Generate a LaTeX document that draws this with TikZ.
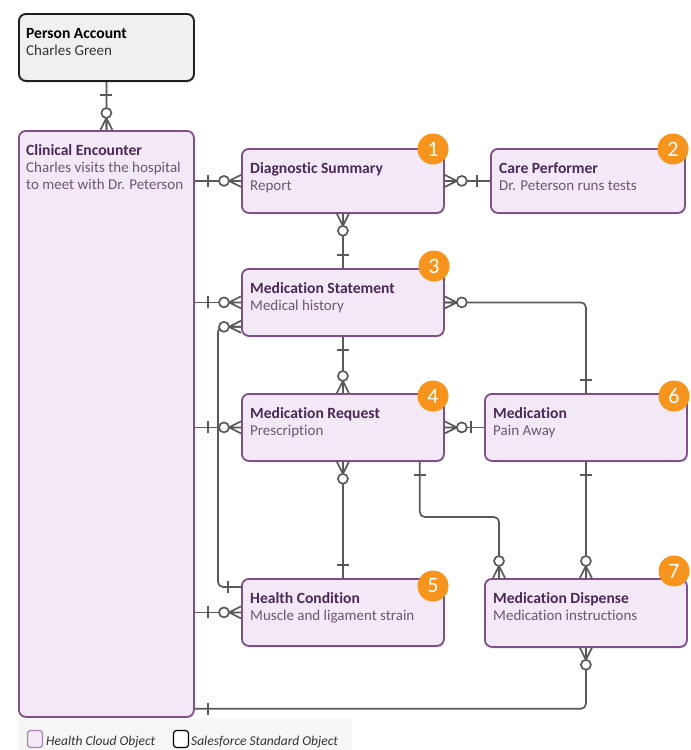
\documentclass[tikz,border=0pt]{standalone}
\usepackage{fontspec}
\setmainfont{Carlito}[Ligatures=NoCommon]
\usetikzlibrary{calc,shadows}
\definecolor{hcfill}{HTML}{F3E8F5}
\definecolor{hcdraw}{HTML}{7F4F8A}
\definecolor{ttl}{HTML}{4A2A55}
\definecolor{subc}{HTML}{6D5577}
\definecolor{conn}{HTML}{595959}
\definecolor{badgec}{HTML}{F7941D}
\definecolor{sfill}{HTML}{F0F0F2}
\definecolor{legbgc}{HTML}{F6F6F6}
\newcommand{\ttlfont}{\fontsize{15.6}{17}\selectfont\bfseries}
\begin{document}
\begin{tikzpicture}[x=1pt,y=-1pt,
  hcbox/.style={draw=hcdraw, fill=hcfill, line width=1.8pt, rounded corners=7pt, inner sep=0pt, anchor=north west,
    drop shadow={opacity=0.18, shadow xshift=0.8pt, shadow yshift=-1.8pt}},
  sfbox/.style={draw=black!88, fill=sfill, line width=1.9pt, rounded corners=7pt, inner sep=0pt, anchor=north west,
    drop shadow={opacity=0.18, shadow xshift=0.8pt, shadow yshift=-1.8pt}},
  txt/.style={anchor=base west, inner sep=0pt, font=\fontsize{15}{17}\selectfont},
  badgenode/.style={circle, fill=badgec, text=white, minimum size=31pt, inner sep=0pt, font=\fontsize{22}{22}\selectfont},
  erlink/.style={draw=conn, line width=1.7pt, rounded corners=5pt},
  erline/.style={draw=conn, line width=1.7pt},
  zmany/.pic={\draw[erline] (-12,0) -- (0,-6) (-12,0) -- (0,0) (-12,0) -- (0,6);
              \draw[erline, fill=white] (-17,0) circle[radius=5pt];},
  onebar/.pic={\draw[erline] (-13,-6) -- (-13,6);},
  legsq/.style={rounded corners=3pt, line width=1.2pt, minimum width=15pt, minimum height=17pt, inner sep=0pt},
  legtxt/.style={anchor=base west, inner sep=0pt, text=black!80, font=\fontsize{13.5}{15}\selectfont\itshape}
]
\useasboundingbox (0,0) rectangle (691,750);

% entity boxes
\node[sfbox, minimum width=175pt, minimum height=67pt] (pa) at (18,13) {};
\node[hcbox, minimum width=175pt, minimum height=586pt] (ce) at (18,130) {};
\node[hcbox, minimum width=202pt, minimum height=64pt] (ds) at (241,148) {};
\node[hcbox, minimum width=194pt, minimum height=64pt] (cp) at (490,148) {};
\node[hcbox, minimum width=202pt, minimum height=67pt] (ms) at (241,268) {};
\node[hcbox, minimum width=202pt, minimum height=67pt] (mr) at (241,393) {};
\node[hcbox, minimum width=202pt, minimum height=67pt] (med) at (484,393) {};
\node[hcbox, minimum width=202pt, minimum height=67pt] (hc) at (241,578) {};
\node[hcbox, minimum width=202pt, minimum height=68pt] (md) at (484,578) {};

% texts
\node[txt] (pa-t) at ($(pa.north west)+(8,25)$) {\vtop{\hbox{\ttlfont\color{black}Person Account}\hbox{\color{black!80}Charles Green}}};
\node[txt] (ce-t) at ($(ce.north west)+(8,25)$) {\vtop{\hbox{\ttlfont\color{ttl}Clinical Encounter}\hbox{\color{subc}Charles visits the hospital}\hbox{\color{subc}to meet with Dr. Peterson}}};
\node[txt] (ds-t) at ($(ds.north west)+(9,25)$) {\vtop{\hbox{\ttlfont\color{ttl}Diagnostic Summary}\hbox{\color{subc}Report}}};
\node[txt] (cp-t) at ($(cp.north west)+(9,25)$) {\vtop{\hbox{\ttlfont\color{ttl}Care Performer}\hbox{\color{subc}Dr. Peterson runs tests}}};
\node[txt] (ms-t) at ($(ms.north west)+(9,25)$) {\vtop{\hbox{\ttlfont\color{ttl}Medication Statement}\hbox{\color{subc}Medical history}}};
\node[txt] (mr-t) at ($(mr.north west)+(9,25)$) {\vtop{\hbox{\ttlfont\color{ttl}Medication Request}\hbox{\color{subc}Prescription}}};
\node[txt] (med-t) at ($(med.north west)+(9,25)$) {\vtop{\hbox{\ttlfont\color{ttl}Medication}\hbox{\color{subc}Pain Away}}};
\node[txt] (hc-t) at ($(hc.north west)+(9,25)$) {\vtop{\hbox{\ttlfont\color{ttl}Health Condition}\hbox{\color{subc}Muscle and ligament strain}}};
\node[txt] (md-t) at ($(md.north west)+(9,25)$) {\vtop{\hbox{\ttlfont\color{ttl}Medication Dispense}\hbox{\color{subc}Medication instructions}}};

% helper coordinates
\coordinate (msl) at ($(ms.south west)+(0,-10)$);
\coordinate (hcl) at ($(hc.north west)+(0,9)$);
\coordinate (mrd) at ($(mr.south east)+(-25,0)$);
\coordinate (mdl) at ($(md.north west)+(15,0)$);
\coordinate (cebot) at ($(ce.south east)+(0,-9)$);

% connectors
\draw[erlink] (pa.south) -- (ce.north);
\draw[erlink] (ce.east |- ds.west) -- (ds.west);
\draw[erlink] (ds.east) -- (cp.west);
\draw[erlink] (ds.south) -- (ms.north);
\draw[erlink] (ce.east |- ms.west) -- (ms.west);
\draw[erlink] (ms.south) -- (mr.north);
\draw[erlink] (ms.east) -| (med.north);
\draw[erlink] (ce.east |- mr.west) -- (mr.west);
\draw[erlink] (mr.east) -- (med.west);
\draw[erlink] (mr.south) -- (hc.north);
\draw[erlink] (msl) -- ++(-23,0) |- (hcl);
\draw[erlink] (ce.east |- hc.west) -- (hc.west);
\draw[erlink] (mrd) |- ($(mdl)+(0,-61)$) -- (mdl);
\draw[erlink] (med.south) -- (md.north);
\draw[erlink] (md.south) |- (cebot);

% end marks
\pic[rotate=90] at (pa.south) {onebar};
\pic[rotate=-90] at (ce.north) {zmany};
\pic[rotate=180] at (ce.east |- ds.west) {onebar};
\pic at (ds.west) {zmany};
\pic[rotate=180] at (ds.east) {zmany};
\pic at (cp.west) {onebar};
\pic[rotate=90] at (ds.south) {zmany};
\pic[rotate=-90] at (ms.north) {onebar};
\pic[rotate=180] at (ce.east |- ms.west) {onebar};
\pic at (ms.west) {zmany};
\pic[rotate=90] at (ms.south) {onebar};
\pic[rotate=-90] at (mr.north) {zmany};
\pic[rotate=180] at (ms.east) {zmany};
\pic[rotate=-90] at (med.north) {onebar};
\pic[rotate=180] at (ce.east |- mr.west) {onebar};
\pic at (mr.west) {zmany};
\pic[rotate=180] at (mr.east) {zmany};
\pic at (med.west) {onebar};
\pic[rotate=90] at (mr.south) {zmany};
\pic[rotate=-90] at (hc.north) {onebar};
\pic at (msl) {zmany};
\pic at (hcl) {onebar};
\pic[rotate=180] at (ce.east |- hc.west) {onebar};
\pic at (hc.west) {zmany};
\pic[rotate=90] at (mrd) {onebar};
\pic[rotate=-90] at (mdl) {zmany};
\pic[rotate=90] at (med.south) {onebar};
\pic[rotate=-90] at (md.north) {zmany};
\pic[rotate=90] at (md.south) {zmany};
\pic[rotate=180] at (cebot) {onebar};

% badges
\node[badgenode] (b1) at (433,149) {1};
\node[badgenode] (b2) at (673,149) {2};
\node[badgenode] (b3) at (434,266) {3};
\node[badgenode] (b4) at (433,396) {4};
\node[badgenode] (b6) at (674,396) {6};
\node[badgenode] (b5) at (433,586) {5};
\node[badgenode] (b7) at (674,571) {7};

% legend
\node[fill=legbgc, minimum width=334pt, minimum height=32pt, inner sep=0pt, anchor=north west] (leg) at (18,718) {};
\node[legsq, fill=hcfill, draw=hcdraw!70] (lq1) at (35,739) {};
\node[legtxt] (lt1) at (46,745) {Health Cloud Object};
\node[legsq, fill=white, draw=black] (lq2) at (181,739) {};
\node[legtxt] (lt2) at (191,745) {Salesforce Standard Object};
\end{tikzpicture}
\end{document}
